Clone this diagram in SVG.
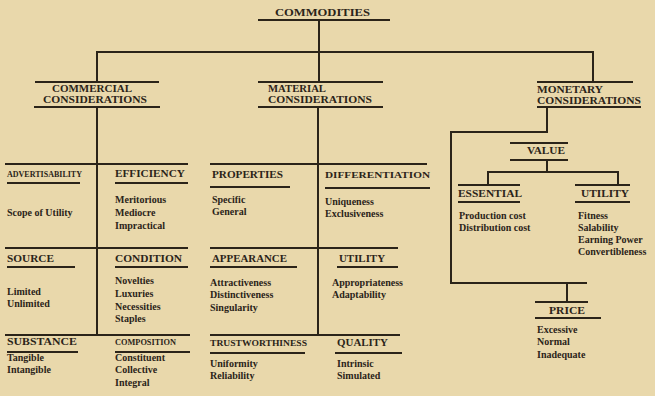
<svg xmlns="http://www.w3.org/2000/svg" width="655" height="396" viewBox="0 0 655 396">
<style>
.bg{fill:#e9d8ab}
text{font-family:"Liberation Serif","DejaVu Serif",serif;font-weight:bold;fill:#2b2419}
.h{font-size:10.5px}
.hs{font-size:9px}
.i{font-size:10px}
.ln{stroke:#2b2419;stroke-width:2;fill:none}
.ul{stroke:#2b2419;stroke-width:1.8;fill:none}
</style>
<rect class="bg" x="0" y="0" width="655" height="396"/>
<g id="connectors">
<path class="ln" d="M319 20V82M97 82V52H593V82M97 107V335M318 107V335"/>
<path class="ln" d="M5 164H188M5 248H188M5 335H190"/>
<path class="ln" d="M210 164H427M210 248H398M210 335H400"/>
<path class="ln" d="M547 107V132H451V283H587M567 283V302M547 160V172M488 185V172H618V185"/>
</g>
<g id="commodities">
<text class="h" x="275" y="16" textLength="95" lengthAdjust="spacingAndGlyphs">COMMODITIES</text>
<path class="ul" d="M258 20H390"/>
</g>
<g id="commercial">
<path class="ul" d="M35 82H159M34 107H160"/>
<text class="h" x="52" y="92" textLength="80" lengthAdjust="spacingAndGlyphs">COMMERCIAL</text>
<text class="h" x="43" y="103" textLength="104" lengthAdjust="spacingAndGlyphs">CONSIDERATIONS</text>
</g>
<g id="material">
<path class="ul" d="M258 82H383M258 107H383"/>
<text class="h" x="268" y="92" textLength="58" lengthAdjust="spacingAndGlyphs">MATERIAL</text>
<text class="h" x="268" y="103" textLength="104" lengthAdjust="spacingAndGlyphs">CONSIDERATIONS</text>
</g>
<g id="monetary">
<path class="ul" d="M537 82H633M537 107H641"/>
<text class="h" x="537" y="93" textLength="66" lengthAdjust="spacingAndGlyphs">MONETARY</text>
<text class="h" x="537" y="104" textLength="104" lengthAdjust="spacingAndGlyphs">CONSIDERATIONS</text>
</g>
<g id="advertisability">
<text class="hs" x="7" y="177" textLength="75" lengthAdjust="spacingAndGlyphs">ADVERTISABILITY</text>
<path class="ul" d="M7 183H80"/>
<text class="i" x="7" y="216">Scope of Utility</text>
</g>
<g id="efficiency">
<text class="h" x="115" y="177" textLength="70" lengthAdjust="spacingAndGlyphs">EFFICIENCY</text>
<path class="ul" d="M115 183H188"/>
<text class="i" x="115" y="203">Meritorious</text>
<text class="i" x="115" y="216">Mediocre</text>
<text class="i" x="115" y="229">Impractical</text>
</g>
<g id="source">
<text class="h" x="7" y="262" textLength="47" lengthAdjust="spacingAndGlyphs">SOURCE</text>
<path class="ul" d="M7 267H75"/>
<text class="i" x="7" y="295">Limited</text>
<text class="i" x="7" y="307">Unlimited</text>
</g>
<g id="condition">
<text class="h" x="115" y="262" textLength="67" lengthAdjust="spacingAndGlyphs">CONDITION</text>
<path class="ul" d="M115 267H188"/>
<text class="i" x="115" y="284">Novelties</text>
<text class="i" x="115" y="297">Luxuries</text>
<text class="i" x="115" y="310">Necessities</text>
<text class="i" x="115" y="322">Staples</text>
</g>
<g id="substance">
<text class="h" x="7" y="345" textLength="70" lengthAdjust="spacingAndGlyphs">SUBSTANCE</text>
<path class="ul" d="M7 352H78"/>
<text class="i" x="7" y="361">Tangible</text>
<text class="i" x="7" y="373">Intangible</text>
</g>
<g id="composition">
<text class="hs" x="115" y="345" textLength="61" lengthAdjust="spacingAndGlyphs">COMPOSITION</text>
<path class="ul" d="M115 352H190"/>
<text class="i" x="115" y="361">Constituent</text>
<text class="i" x="115" y="373">Collective</text>
<text class="i" x="115" y="386">Integral</text>
</g>
<g id="properties">
<text class="h" x="212" y="178" textLength="71" lengthAdjust="spacingAndGlyphs">PROPERTIES</text>
<path class="ul" d="M210 187H290"/>
<text class="i" x="212" y="203">Specific</text>
<text class="i" x="212" y="215">General</text>
</g>
<g id="differentiation">
<text class="hs" x="325" y="178" textLength="105" lengthAdjust="spacingAndGlyphs">DIFFERENTIATION</text>
<path class="ul" d="M325 188H430"/>
<text class="i" x="325" y="205">Uniqueness</text>
<text class="i" x="325" y="217">Exclusiveness</text>
</g>
<g id="appearance">
<text class="h" x="212" y="262" textLength="75" lengthAdjust="spacingAndGlyphs">APPEARANCE</text>
<path class="ul" d="M210 267H297"/>
<text class="i" x="210" y="286">Attractiveness</text>
<text class="i" x="210" y="298">Distinctiveness</text>
<text class="i" x="210" y="311">Singularity</text>
</g>
<g id="utility-material">
<text class="h" x="339" y="262" textLength="46" lengthAdjust="spacingAndGlyphs">UTILITY</text>
<path class="ul" d="M337 267H398"/>
<text class="i" x="332" y="286">Appropriateness</text>
<text class="i" x="332" y="298">Adaptability</text>
</g>
<g id="trustworthiness">
<text class="hs" x="210" y="346" textLength="97" lengthAdjust="spacingAndGlyphs">TRUSTWORTHINESS</text>
<path class="ul" d="M210 353H305"/>
<text class="i" x="210" y="367">Uniformity</text>
<text class="i" x="210" y="379">Reliability</text>
</g>
<g id="quality">
<text class="h" x="337" y="346" textLength="51" lengthAdjust="spacingAndGlyphs">QUALITY</text>
<path class="ul" d="M335 353H402"/>
<text class="i" x="337" y="367">Intrinsic</text>
<text class="i" x="337" y="379">Simulated</text>
</g>
<g id="value">
<path class="ul" d="M510 143H568M510 160H568"/>
<text class="h" x="527" y="154" textLength="38" lengthAdjust="spacingAndGlyphs">VALUE</text>
</g>
<g id="essential">
<path class="ul" d="M458 185H520M458 202H520"/>
<text class="h" x="458" y="197" textLength="64" lengthAdjust="spacingAndGlyphs">ESSENTIAL</text>
<text class="i" x="459" y="219">Production cost</text>
<text class="i" x="459" y="231">Distribution cost</text>
</g>
<g id="utility-value">
<path class="ul" d="M575 185H630M575 202H630"/>
<text class="h" x="581" y="197" textLength="48" lengthAdjust="spacingAndGlyphs">UTILITY</text>
<text class="i" x="578" y="219">Fitness</text>
<text class="i" x="578" y="231">Salability</text>
<text class="i" x="578" y="243">Earning Power</text>
<text class="i" x="578" y="255">Convertibleness</text>
</g>
<g id="price">
<path class="ul" d="M535 302H588M535 318H601"/>
<text class="h" x="549" y="314" textLength="36" lengthAdjust="spacingAndGlyphs">PRICE</text>
<text class="i" x="537" y="333">Excessive</text>
<text class="i" x="537" y="345">Normal</text>
<text class="i" x="537" y="358">Inadequate</text>
</g>
</svg>
